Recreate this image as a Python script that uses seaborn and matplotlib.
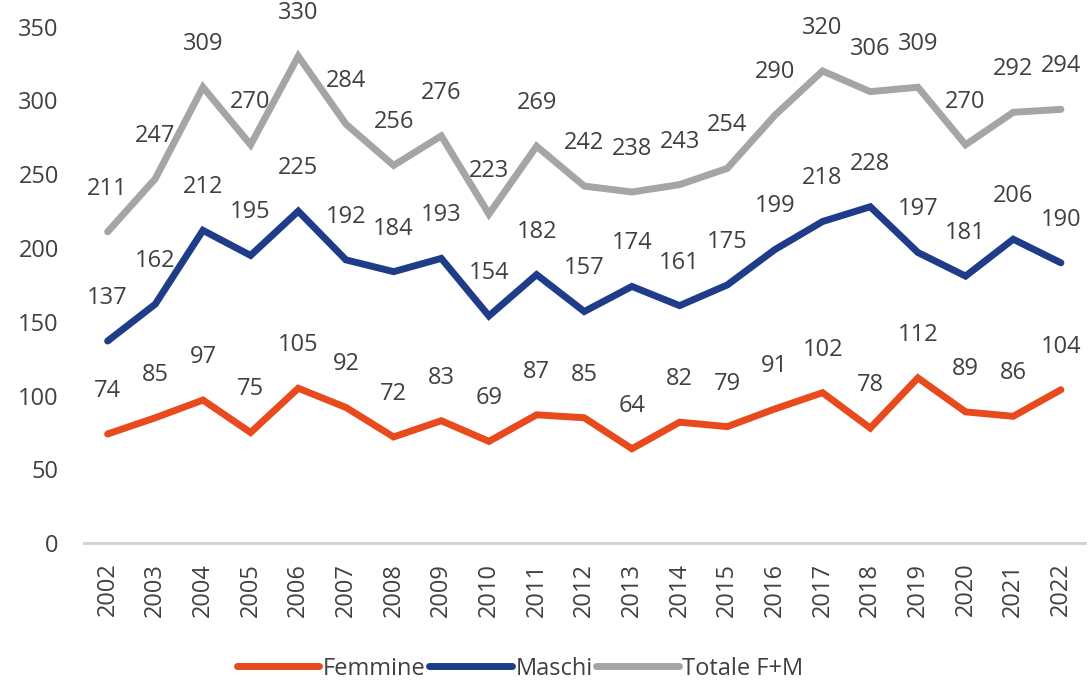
import matplotlib
matplotlib.use("Agg")
import matplotlib.pyplot as plt
import seaborn as sns
import pandas as pd

years = list(range(2002, 2023))
femmine = [74, 85, 97, 75, 105, 92, 72, 83, 69, 87, 85, 64, 82, 79, 91, 102, 78, 112, 89, 86, 104]
maschi = [137, 162, 212, 195, 225, 192, 184, 193, 154, 182, 157, 174, 161, 175, 199, 218, 228, 197, 181, 206, 190]
totale = [211, 247, 309, 270, 330, 284, 256, 276, 223, 269, 242, 238, 243, 254, 290, 320, 306, 309, 270, 292, 294]
series_names = ["Femmine", "Maschi", "Totale F+M"]
colors = ["#E84A1E", "#1F3C88", "#A5A5A5"]

sns.set_style("white")
plt.rcParams["font.family"] = ["Open Sans", "DejaVu Sans"]

rows = []
for name, vals in zip(series_names, [femmine, maschi, totale]):
    for i, (y, v) in enumerate(zip(years, vals)):
        rows.append({"idx": i, "Anno": str(y), "Valore": v, "Serie": name})
df = pd.DataFrame(rows)

fig = plt.figure(figsize=(10.88, 6.85), dpi=100)
ax = fig.add_axes([0.077, 0.207, 0.92, 0.754])

sns.lineplot(data=df, x="idx", y="Valore", hue="Serie", palette=dict(zip(series_names, colors)),
             linewidth=5, ax=ax, legend=False, sort=False)
for line in ax.lines:
    line.set_solid_capstyle("round")
    line.set_solid_joinstyle("miter")

txtcol = "#404040"
for name, vals in zip(series_names, [femmine, maschi, totale]):
    for i, v in enumerate(vals):
        ax.annotate(str(v), (i, v), xytext=(0, 31), textcoords="offset points",
                    ha="center", va="center", fontsize=17, color=txtcol)

ax.set_xlim(-0.5, len(years) - 0.5)
ax.set_ylim(0, 350)
ax.set_yticks(range(0, 351, 50))
ax.set_xticks(range(len(years)))
ax.set_xticklabels([str(y) for y in years], rotation=90)
ax.tick_params(axis="both", labelsize=17, colors=txtcol, length=0)
ax.tick_params(axis="y", pad=18)
ax.tick_params(axis="x", pad=14)
ax.set_xlabel("")
ax.set_ylabel("")
for s in ["top", "right", "left"]:
    ax.spines[s].set_visible(False)
ax.spines["bottom"].set_color("#D0D0D0")
ax.spines["bottom"].set_linewidth(2)

from matplotlib.lines import Line2D
handles = [Line2D([0], [0], color=c, lw=5, solid_capstyle="round") for c in colors]
fig.legend(handles, series_names, loc="center", bbox_to_anchor=(0.478, 0.024), ncol=3,
           frameon=False, fontsize=17, handlelength=3.5, handletextpad=0.15, columnspacing=0.15,
           labelcolor=txtcol)

fig.savefig("out.png", dpi=100)
